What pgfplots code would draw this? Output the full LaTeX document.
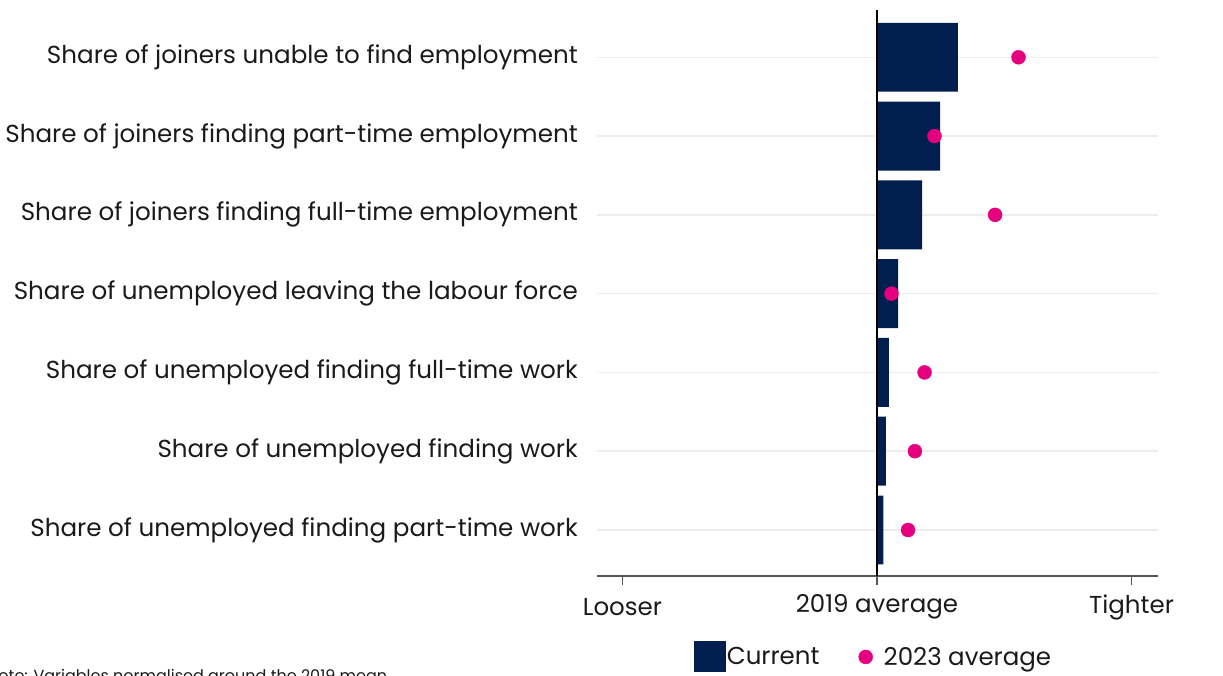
\documentclass[border=0pt]{standalone}
\usepackage{pgfplots}
\pgfplotsset{compat=1.18}
\usepackage{fontspec}
\setmainfont{Poppins}
\definecolor{navyc}{HTML}{001E4E}
\definecolor{pinkc}{HTML}{E5007D}
\definecolor{gridc}{HTML}{EDEDED}
\definecolor{axisc}{HTML}{555555}
\definecolor{txt}{HTML}{1A1A1A}
\begin{document}
\begin{tikzpicture}[x=1pt,y=1pt]
\path[use as bounding box] (0,0) rectangle (1223,675);
\begin{axis}[
  at={(597pt,99pt)}, anchor=south west, scale only axis,
  width=561pt, height=566pt,
  xmin=-1.100, xmax=1.104, ymin=-0.6, ymax=6.584, y dir=reverse,
  axis x line*=bottom, axis y line*=left,
  y axis line style={draw=none},
  x axis line style={axisc, line width=2pt},
  ytick={0,1,2,3,4,5,6},
  yticklabels={{Share of joiners unable to find employment},{Share of joiners finding part-time employment},{Share of joiners finding full-time employment},{Share of unemployed leaving the labour force},{Share of unemployed finding full-time work},{Share of unemployed finding work},{Share of unemployed finding part-time work}},
  y tick style={draw=none},
  ymajorgrids, grid style={gridc, line width=1.5pt},
  xtick={-1,0,1}, xticklabels={Looser,2019 average,Tighter},
  x tick style={axisc, line width=1.5pt},
  major tick length=9pt, tick align=outside,
  xticklabel style={font=\fontsize{24.5}{28}\selectfont, text=txt, inner sep=0pt, anchor=center, yshift=-22pt},
  yticklabel style={font=\fontsize{24.6}{28}\selectfont, text=txt, inner sep=0pt, anchor=east, xshift=-10pt},
  legend style={at={(0.492,-0.143)}, anchor=center, draw=none, fill=none, legend columns=-1,
    font=\fontsize{24.5}{28}\selectfont, text=txt,
    nodes={inner sep=1pt},
    /tikz/every even column/.append style={column sep=38pt}},
  legend cell align=left,
]
\addplot[xbar, bar width=0.875, bar shift=0pt, fill=navyc, draw=none,
  /pgfplots/legend image code/.code={\fill[navyc] (0pt,-15.5pt) rectangle (32pt,15.5pt);}]
  coordinates {(0.318,0) (0.248,1) (0.177,2) (0.083,3) (0.047,4) (0.035,5) (0.025,6)};
\addlegendentry{Current}
\addplot[black, line width=2pt, forget plot] coordinates {(0,-0.6) (0,6.584)};
\addplot[only marks, mark=*, mark size=7pt, color=pinkc, mark options={draw=pinkc, fill=pinkc},
  /pgfplots/legend image code/.code={\fill[pinkc] (7pt,0pt) circle (7pt); \path[draw=none, fill=none] (0pt,0pt) -- (24pt,0pt);}]
  coordinates {(0.556,0) (0.226,1) (0.464,2) (0.057,3) (0.187,4) (0.149,5) (0.122,6)};
\addlegendentry{2023 average}
\end{axis}
\node[anchor=base west, font=\fontsize{16}{20}\selectfont, text=txt, inner sep=0pt] at (-13,-6) {Note: Variables normalised around the 2019 mean};
\end{tikzpicture}
\end{document}
